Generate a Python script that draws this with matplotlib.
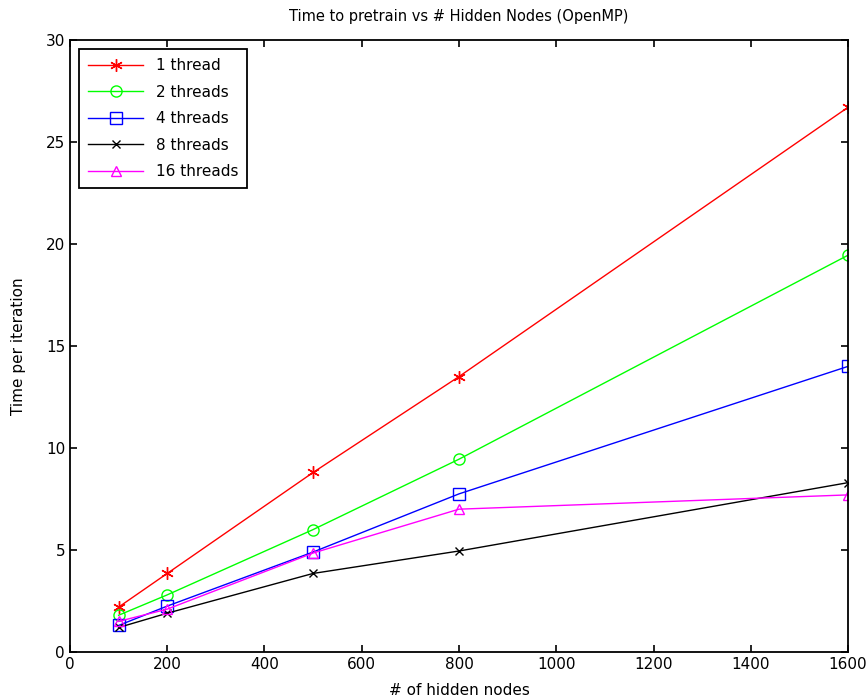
import matplotlib
matplotlib.use('Agg')
import matplotlib.pyplot as plt

nodes = [100, 200, 500, 800, 1600]
t1 = [2.2, 3.85, 8.8, 13.5, 26.7]
t2 = [1.8, 2.8, 6.0, 9.45, 19.45]
t4 = [1.3, 2.25, 4.9, 7.75, 14.0]
t8 = [1.2, 1.9, 3.85, 4.95, 8.3]
t16 = [1.5, 2.1, 4.85, 7.0, 7.7]
labels = ['1 thread', '2 threads', '4 threads', '8 threads', '16 threads']

fig = plt.figure(figsize=(8.68, 7.0), dpi=100)
ax = fig.add_axes([0.0806, 0.0686, 0.8964, 0.8743])

# matlab style markers: asterisk, circle, square, x, triangle
styles = [('#ff0000', (6, 2, 0), 9), ('#00ff00', 'o', 8), ('#0000ff', 's', 8),
          ('#000000', 'x', 6), ('#ff00ff', '^', 7)]
for ys, (c, m, ms), lab in zip([t1, t2, t4, t8, t16], styles, labels):
    ax.plot(nodes, ys, color=c, marker=m, markersize=ms, markerfacecolor='none',
            markeredgecolor=c, markeredgewidth=1, linewidth=1, label=lab)

ax.set_xlim(0, 1600)
ax.set_ylim(0, 30)
ax.set_xticks(range(0, 1601, 200))
ax.set_yticks(range(0, 31, 5))
for s in ax.spines.values():
    s.set_linewidth(1.3)
ax.tick_params(direction='in', top=True, right=True, labelsize=11, length=5, width=1.2)
ax.set_title('Time to pretrain vs # Hidden Nodes (OpenMP)', fontsize=10.5, pad=14)
ax.set_xlabel('# of hidden nodes', fontsize=11, labelpad=8)
ax.set_ylabel('Time per iteration', fontsize=11, labelpad=14)
leg = ax.legend(loc='upper left', fontsize=11, fancybox=False, edgecolor='black',
                framealpha=1, handlelength=3.6, labelspacing=0.75, borderaxespad=0.6,
                borderpad=0.6)
leg.get_frame().set_linewidth(1.3)

fig.savefig('out.png', dpi=100)
